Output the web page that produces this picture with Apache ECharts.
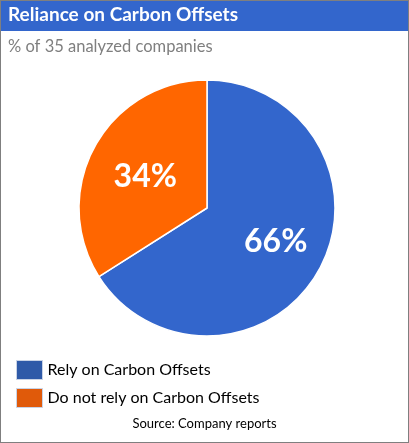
<!DOCTYPE html>
<html>
<head>
<meta charset="utf-8">
<script src="https://cdn.jsdelivr.net/npm/echarts@6/dist/echarts.min.js"></script>
<style>
  html, body { margin: 0; padding: 0; background: #fff; }
  #chart { width: 409px; height: 443px; box-sizing: border-box; border: 1px solid #7f7f7f; }
</style>
</head>
<body>
<div id="chart"></div>
<script>
const categories = ['Rely on Carbon Offsets', 'Do not rely on Carbon Offsets']
const shares = [66, 34]
const colors = ['#3366cc', '#ff6600']
const legendColors = ['#2f5aa8', '#e05a0a']

const chart = echarts.init(document.getElementById('chart'))
const font = 'Lato, "Open Sans", sans-serif'

// nudge the inside labels a bit outward like the original
const labelShift = [[10, 1], [-3, 1]]

const option = {
  animation: false,
  textStyle: { fontFamily: font },
  graphic: [
    {
      type: 'rect',
      left: 0,
      top: 0,
      shape: { width: 407, height: 30 },
      style: { fill: '#3366cc' },
    },
  ],
  title: [
    {
      text: 'Reliance on Carbon Offsets',
      left: 7,
      top: 4,
      padding: 0,
      textStyle: { color: '#fff', fontSize: 19, fontWeight: 'bold', fontFamily: font },
    },
    {
      text: '% of 35 analyzed companies',
      left: 7,
      top: 37,
      padding: 0,
      textStyle: { color: '#7f7f7f', fontSize: 16.5, fontWeight: 'normal', fontFamily: font },
    },
    {
      text: 'Source: Company reports',
      left: 'center',
      top: 416,
      padding: 0,
      textStyle: { color: '#000', fontSize: 13, fontWeight: 'normal', fontFamily: font },
    },
  ],
  legend: {
    orient: 'vertical',
    left: 15,
    top: 359,
    itemWidth: 26,
    itemHeight: 19,
    itemGap: 8,
    padding: 0,
    icon: 'rect',
    data: categories.map((name, i) => ({
      name,
      itemStyle: { color: legendColors[i], borderColor: '#c9d3e6', borderWidth: 1 },
    })),
    textStyle: { color: '#000', fontSize: 16, fontFamily: font },
  },
  series: [
    {
      type: 'pie',
      center: [206, 207],
      radius: 128,
      startAngle: 90,
      clockwise: true,
      color: colors,
      itemStyle: { borderColor: '#fff', borderWidth: 1.5 },
      label: {
        show: true,
        position: 'inside',
        formatter: '{c}%',
        color: '#fff',
        fontSize: 32,
        fontWeight: 'bold',
        fontFamily: font,
      },
      labelLayout: (params) => ({
        dx: labelShift[params.dataIndex][0],
        dy: labelShift[params.dataIndex][1],
      }),
      labelLine: { show: false },
      data: categories.map((name, i) => ({ name, value: shares[i] })),
    },
  ],
}

chart.setOption(option)
</script>
</body>
</html>
